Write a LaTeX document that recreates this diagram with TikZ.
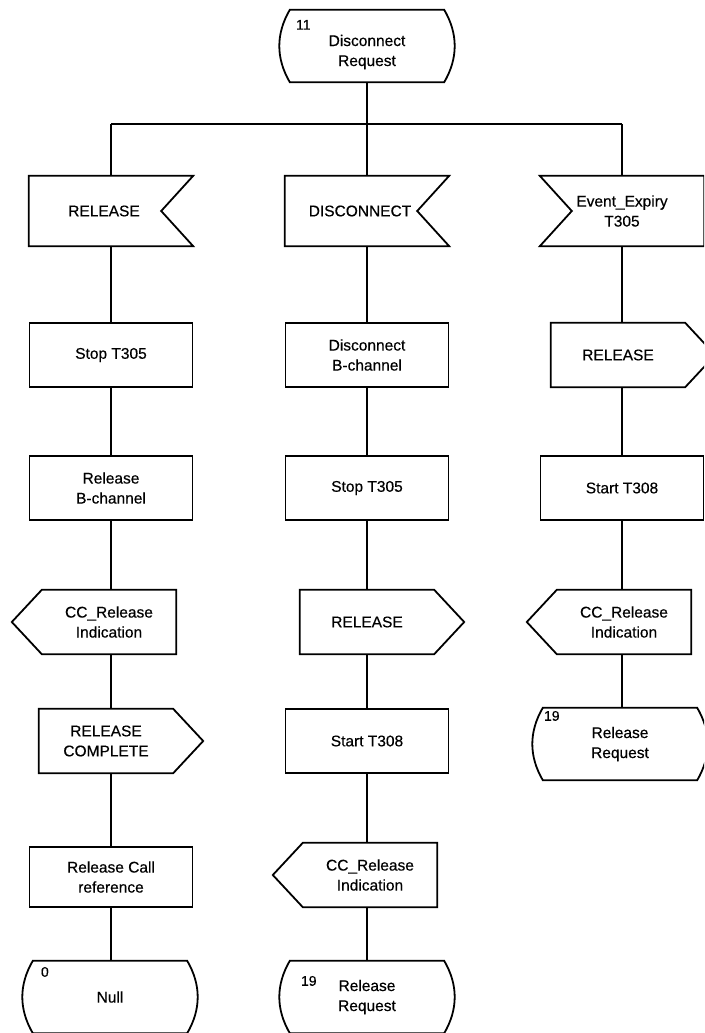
\documentclass[tikz,border=0pt]{standalone}
\usepackage{fontspec}
\setmainfont{Liberation Sans}[FakeBold=0.45]
% SDL symbol outlines, built on the anchors of a plain rectangle node
\newcommand\sdlInputR[1]{(#1.north west) -- (#1.north east) -- ([xshift=-32pt]#1.east) -- (#1.south east) -- (#1.south west) -- cycle}
\newcommand\sdlInputL[1]{(#1.north east) -- (#1.north west) -- ([xshift=32pt]#1.west) -- (#1.south west) -- (#1.south east) -- cycle}
\newcommand\sdlOutputR[1]{(#1.north west) -- (#1.north east) -- ([xshift=30pt]#1.east) -- (#1.south east) -- (#1.south west) -- cycle}
\newcommand\sdlOutputL[1]{(#1.north east) -- (#1.north west) -- ([xshift=-30pt]#1.west) -- (#1.south west) -- (#1.south east) -- cycle}
\newcommand\sdlState[1]{(#1.north west) -- (#1.north east) .. controls +(14,24) and +(14,-24) .. (#1.south east) -- (#1.south west) .. controls +(-14,-24) and +(-14,24) .. (#1.north west) -- cycle}
\begin{document}
\begin{tikzpicture}[x=1pt, y=-1pt,
  line/.style={line width=1.8pt},
  sym/.style={draw, line width=1.8pt, line join=miter},
  txt/.style={font=\fontsize{15.5}{20}\selectfont, align=center},
  taskbox/.style={txt, rectangle, draw, line width=1.8pt, minimum width=163pt, minimum height=64pt, inner sep=0pt},
  inbox/.style={txt, rectangle, minimum width=164pt, minimum height=70pt, inner sep=0pt},
  outbox/.style={txt, rectangle, minimum width=134pt, minimum height=64pt, inner sep=0pt},
  statebox/.style={txt, rectangle, minimum width=154pt, minimum height=72pt, inner sep=0pt},
  num/.style={font=\fontsize{14}{16}\selectfont, anchor=north west, inner sep=0pt},
]
\useasboundingbox (0,0) rectangle (704,1033);
\clip (0,0) rectangle (704,1033);

% start state
\node[statebox, label={[txt, yshift=-6pt]center:Disconnect\\Request}] (s0) at (367,46) {};
\node[num] (s0n) at ([xshift=6pt, yshift=-10pt]s0.north west) {11};

\coordinate (jm) at (367,124);
\coordinate (jl) at (111,124);
\coordinate (jr) at (622,124);

% left branch
\node[inbox] (l1) at (111,211) {RELEASE\hspace*{14pt}};
\node[taskbox] (l2) at (111,355) {Stop T305};
\node[taskbox] (l3) at (111,488) {Release\\B-channel};
\node[outbox] (l4) at (109,622) {CC\_Release\\Indication};
\node[outbox] (l5) at (106,741) {RELEASE\\COMPLETE};
\node[taskbox, minimum height=60pt] (l6) at (111,877) {Release Call\\reference};
\node[statebox] (l7) at (110,997) {Null};
\node[num] (l7n) at ([xshift=8pt, yshift=-6pt]l7.north west) {0};

% middle branch
\node[inbox] (m1) at (367,211) {DISCONNECT\hspace*{14pt}};
\node[taskbox] (m2) at (367,355) {Disconnect\\B-channel};
\node[taskbox] (m3) at (367,488) {Stop T305};
\node[outbox] (m4) at (367,622) {RELEASE};
\node[taskbox] (m5) at (367,741) {Start T308};
\node[outbox] (m6) at (370,875) {CC\_Release\\Indication};
\node[statebox] (m7) at (367,997) {Release\\Request};
\node[num] (m7n) at ([xshift=11pt, yshift=-15pt]m7.north west) {19};

% right branch
\node[inbox] (r1) at (622,211) {Event\_Expiry\\T305};
\node[outbox] (r2) at (618,355) {RELEASE};
\node[taskbox] (r3) at (622,488) {Start T308};
\node[outbox] (r4) at (624,622) {CC\_Release\\Indication};
\node[statebox] (r5) at (620,744) {Release\\Request};
\node[num] (r5n) at ([xshift=1pt, yshift=-3pt]r5.north west) {19};

% symbol outlines
\draw[sym] \sdlState{s0};
\draw[sym] \sdlInputR{l1};
\draw[sym] \sdlInputR{m1};
\draw[sym] \sdlInputL{r1};
\draw[sym] \sdlOutputR{r2};
\draw[sym] \sdlOutputL{l4};
\draw[sym] \sdlOutputR{m4};
\draw[sym] \sdlOutputL{r4};
\draw[sym] \sdlOutputR{l5};
\draw[sym] \sdlOutputL{m6};
\draw[sym] \sdlState{l7};
\draw[sym] \sdlState{m7};
\draw[sym] \sdlState{r5};

% connectors (each column runs straight down its own line)
\draw[line] (s0.south) -- (jm);
\draw[line] (jl) -- (jr);
\draw[line] (jl) -- (l1.north);
\draw[line] (jm) -- (m1.north);
\draw[line] (jr) -- (r1.north);
\draw[line] (l1.south) -- (l2.north);
\draw[line] (l2.south) -- (l3.north);
\draw[line] (l3.south) -- (l4.north -| l3.south);
\draw[line] (l4.south -| l3.south) -- (l5.north -| l3.south);
\draw[line] (l5.south -| l6.north) -- (l6.north);
\draw[line] (l6.south) -- (l7.north -| l6.south);
\draw[line] (m1.south) -- (m2.north);
\draw[line] (m2.south) -- (m3.north);
\draw[line] (m3.south) -- (m4.north);
\draw[line] (m4.south) -- (m5.north);
\draw[line] (m5.south) -- (m6.north -| m5.south);
\draw[line] (m6.south -| m7.north) -- (m7.north);
\draw[line] (r1.south) -- (r2.north -| r1.south);
\draw[line] (r2.south -| r3.north) -- (r3.north);
\draw[line] (r3.south) -- (r4.north -| r3.south);
\draw[line] (r4.south -| r3.south) -- (r5.north -| r3.south);
\end{tikzpicture}
\end{document}
